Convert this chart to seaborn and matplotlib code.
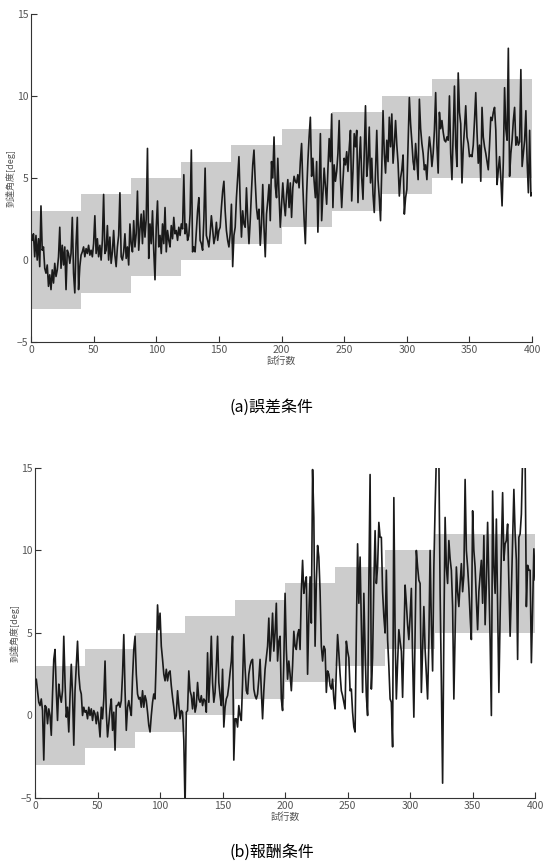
import numpy as np
import matplotlib
matplotlib.use("Agg")
import matplotlib.pyplot as plt
import pandas as pd
import seaborn as sns

# target band per block of 40 trials (last block runs to 400)
block_edges = [0, 40, 80, 120, 160, 200, 240, 280, 320, 400]
band_low = [-3, -2, -1, 0, 1, 2, 3, 4, 5]
band_high = [3, 4, 5, 6, 7, 8, 9, 10, 11]

# (a) error condition, reach angle per trial
error_angle = [
    1.2, 1.6, 0.2, 1.5, 0.0, 1.3, -0.4, 3.3, 0.6, 0.8,
    -0.5, -0.8, -0.3, -1.6, -0.9, -1.8, -0.6, -1.4, -0.2, -1.0,
    -0.6, 0.2, 2.0, -0.5, 0.9, -0.3, 0.8, -1.8, 0.6, 0.4,
    -0.2, 0.4, 2.6, -0.8, -2.0, 1.0, 2.6, -1.8, -0.4, 0.3,
    0.5, 0.8, 0.2, 0.7, 0.4, 0.9, 0.3, 0.6, 0.2, 1.0,
    2.7, 0.4, 1.3, 0.2, 0.9, 0.0, 1.2, 4.0, 0.4, 0.6,
    2.1, 0.0, 1.4, -0.2, 0.5, 1.8, 0.3, -0.4, 0.8, 1.5,
    4.1, 0.2, 0.0, 0.5, 1.6, 0.1, 0.8, -0.3, 2.2, 1.0,
    0.5, 2.4, 0.8, 1.6, 4.2, 0.6, 1.9, 2.8, 1.0, 3.0,
    1.4, 2.5, 6.8, 0.1, 2.2, 1.0, 3.0, 0.6, -1.2, 2.0,
    3.6, 0.8, 1.5, 0.4, 2.2, 1.0, 3.2, 0.5, 1.8, 1.2,
    0.8, 2.1, 1.3, 2.6, 1.6, 1.8, 1.2, 2.0, 1.5, 2.2,
    1.9, 5.2, 1.6, 2.2, 1.2, 1.5, 2.8, 6.7, 0.5, 0.8,
    0.5, 1.8, 3.0, 3.8, 1.2, 1.0, 0.6, 2.5, 5.6, 1.5,
    1.2, 0.8, 1.6, 2.7, 1.9, 1.0, 1.4, 2.3, 1.2, 1.8,
    2.0, 3.2, 4.2, 4.8, 3.0, 1.8, 1.2, 0.8, 1.6, 3.4,
    -0.4, 1.5, 2.0, 3.8, 5.0, 6.3, 3.5, 1.4, 3.0, 2.2,
    2.0, 4.4, 2.5, 1.0, 2.4, 4.2, 5.8, 6.7, 4.8, 3.2,
    2.5, 3.1, 0.9, 2.2, 4.6, 2.0, 0.2, 2.8, 3.6, 4.6,
    2.4, 6.0, 5.0, 7.5, 4.5, 3.8, 6.2, 4.0, 2.0, 3.4,
    4.7, 3.5, 2.7, 4.0, 4.9, 3.2, 4.7, 2.6, 4.4, 5.1,
    4.8, 4.7, 5.2, 4.4, 6.0, 7.1, 4.5, 2.5, 1.0, 4.0,
    6.0, 7.5, 8.7, 5.1, 6.2, 4.8, 3.8, 6.0, 1.7, 4.5,
    7.7, 2.4, 4.0, 5.6, 4.5, 3.4, 5.5, 7.4, 6.0, 8.9,
    3.2, 5.8, 4.8, 5.4, 6.5, 8.5, 5.0, 3.2, 4.8, 6.2,
    5.8, 6.6, 5.4, 6.8, 7.9, 3.6, 5.4, 7.7, 6.9, 7.9,
    3.5, 6.0, 7.5, 5.0, 3.7, 6.5, 9.4, 5.1, 6.0, 8.1,
    4.7, 6.2, 4.0, 2.9, 5.5, 7.9, 4.9, 3.8, 2.4, 5.6,
    9.1, 6.5, 5.3, 7.3, 6.0, 8.7, 6.9, 8.9, 5.9, 7.0,
    8.5, 7.0, 5.9, 3.9, 5.0, 5.5, 6.4, 2.8, 3.8, 4.3,
    7.0, 9.9, 8.3, 7.2, 6.0, 5.5, 7.1, 6.0, 4.9, 9.8,
    8.0, 7.1, 6.5, 5.5, 5.8, 4.9, 6.5, 7.5, 6.8, 5.7,
    6.5, 7.9, 10.2, 7.0, 5.3, 9.0, 8.0, 8.5, 7.8, 7.3,
    7.2, 7.5, 7.3, 10.0, 6.5, 4.9, 7.8, 10.6, 7.0, 5.7,
    11.4, 9.0, 8.3, 4.7, 6.8, 8.0, 9.4, 7.5, 7.1, 6.3,
    6.4, 6.3, 7.0, 8.5, 10.2, 7.8, 5.9, 7.0, 4.8, 9.3,
    7.5, 6.9, 6.5, 6.0, 5.5, 7.0, 8.7, 8.5, 9.0, 9.3,
    7.9, 4.6, 5.5, 6.3, 5.0, 3.3, 6.0, 10.5, 8.0, 7.3,
    12.9, 5.1, 6.5, 7.3, 8.5, 9.3, 7.0, 7.5, 7.0, 7.2,
    11.6, 5.7, 6.5, 7.3, 9.1, 6.0, 4.1, 7.9, 3.9, 4.1,
]

# (b) reward condition, reach angle per trial
reward_angle = [
    2.2, 1.5, 0.8, 0.6, 1.0, 0.3, -2.7, 0.6, 0.5, -0.5,
    0.4, 0.0, -1.2, 1.3, 3.4, 4.0, 1.5, -0.3, 1.9, 1.2,
    0.8, 1.5, 4.8, 2.0, -0.1, 0.5, -1.0, 1.2, 3.1, 1.3,
    -1.8, 1.5, 3.0, 4.5, 2.5, 1.6, 1.3, 0.0, 0.5, 0.2,
    0.3, -0.2, 0.5, 0.0, 0.4, -0.3, 0.3, 0.1, -0.5, 0.2,
    -0.4, -1.3, 0.5, -0.2, 1.0, 3.3, 0.2, -1.3, -0.5, 0.4,
    1.0, -0.9, 0.2, -2.1, 0.6, 0.6, 0.8, 0.5, 0.9, 2.5,
    4.9, 1.5, -0.9, 0.5, 0.9, 0.4, 0.0, 2.3, 4.0, 4.8,
    2.5, 1.3, 1.0, 1.1, 0.5, 1.5, 0.5, 1.2, 0.9, 0.2,
    -0.6, -1.0, 0.0, 0.8, 1.3, 1.0, 3.5, 6.7, 5.2, 6.2,
    4.2, 3.4, 2.5, 2.1, 2.8, 2.1, 2.6, 2.7, 1.8, 1.1,
    0.5, -0.2, 0.0, 1.5, 0.6, -0.2, 0.3, 0.2, -1.5, -5.6,
    0.2, 0.3, 2.7, 1.5, 1.2, 0.4, 1.4, 0.2, 0.6, 2.0,
    1.0, 0.8, 1.2, 0.6, 1.0, 0.9, 0.2, 3.8, 0.8, 2.5,
    4.8, 2.0, 0.8, 1.4, 3.0, 4.8, 2.0, 1.2, 0.6, 2.8,
    -0.7, 0.5, 1.0, 1.2, 1.8, 2.6, 3.3, 4.8, -2.7, -0.2,
    -0.2, -0.7, 0.6, 0.0, -0.3, 2.0, 4.9, 2.9, 1.5, 1.3,
    2.5, 3.0, 3.3, 3.4, 1.6, 1.2, 1.0, 1.3, 2.2, 3.4,
    1.5, -0.2, 1.5, 2.8, 3.5, 4.2, 5.9, 3.3, 4.5, 6.2,
    3.9, 5.0, 6.8, 3.3, 4.5, 4.8, 1.0, 0.3, 3.3, 7.4,
    4.0, 2.2, 3.3, 2.5, 1.5, 3.0, 5.1, 4.2, 4.0, 4.9,
    5.2, 4.0, 7.5, 9.4, 7.4, 8.0, 8.4, 2.5, 6.0, 8.4,
    5.6, 14.9, 12.0, 4.2, 8.0, 10.3, 9.6, 7.5, 4.2, 3.3,
    4.2, 4.0, 1.4, 2.7, 2.5, 1.8, 1.6, 2.2, 1.0, 0.4,
    2.8, 4.9, 3.8, 2.5, 1.5, 1.2, 0.8, 0.4, 4.5, 3.9,
    3.5, 1.5, 1.6, 0.2, -0.7, -1.0, 5.0, 10.4, 6.8, 9.6,
    5.5, 1.4, 7.4, 4.0, 1.2, 0.0, 8.0, 14.6, 1.6, 3.5,
    8.0, 11.2, 8.0, 9.0, 11.7, 10.8, 10.8, 7.5, 6.0, 5.0,
    8.8, 4.6, 3.0, 1.0, 0.8, -1.9, 13.2, 5.0, 1.0, 3.2,
    5.2, 4.5, 3.9, 1.1, 4.5, 7.9, 6.8, 5.5, 4.6, 6.0,
    7.7, 3.5, -0.1, 5.0, 10.0, 9.0, 8.2, 8.0, 1.4, 4.0,
    6.6, 4.0, 2.5, 1.0, 4.5, 10.0, 5.5, 2.7, 9.0, 12.6,
    15.6, 15.2, 15.6, 7.5, 2.0, -4.1, 5.0, 12.0, 9.0, 8.0,
    10.6, 9.5, 8.8, 6.6, 1.0, 5.0, 9.0, 7.5, 6.6, 8.0,
    9.2, 7.5, 8.5, 14.3, 10.0, 9.0, 7.7, 6.0, 4.6, 12.4,
    10.0, 9.0, 7.0, 5.2, 7.5, 8.5, 9.4, 6.8, 10.9, 5.5,
    8.0, 11.7, 8.0, 4.6, 0.0, 13.6, 9.0, 7.4, 11.9, 6.5,
    1.4, 6.0, 10.0, 13.5, 9.4, 10.4, 10.6, 11.6, 8.0, 4.8,
    7.5, 10.5, 13.7, 11.0, 9.4, 3.4, 10.8, 11.0, 12.2, 15.6,
    15.4, 15.6, 6.6, 9.1, 8.8, 8.8, 3.2, 6.5, 10.1, 8.2,
]

x_ticks = [0, 50, 100, 150, 200, 250, 300, 350, 400]
y_ticks = [-5, 0, 5, 10, 15]

sns.set_style("ticks")
plt.rcParams["font.family"] = ["Noto Sans CJK JP", "DejaVu Sans"]

fig = plt.figure(figsize=(5.43, 8.64), dpi=100)
ax_a = fig.add_axes([0.057, 0.604, 0.923, 0.380])
ax_b = fig.add_axes([0.0645, 0.0764, 0.921, 0.382])

band_x = block_edges
band_lo = band_low + [band_low[-1]]
band_hi = band_high + [band_high[-1]]

for ax, vals, caption, cap_y in [
    (ax_a, error_angle, "(a)誤差条件", 0.528),
    (ax_b, reward_angle, "(b)報酬条件", 0.014),
]:
    ax.fill_between(band_x, band_lo, band_hi, step="post",
                    color="#cccccc", linewidth=0, zorder=1)
    df = pd.DataFrame({"trial": np.arange(1, len(vals) + 1), "angle": vals})
    sns.lineplot(data=df, x="trial", y="angle", ax=ax, color="#1a1a1a",
                 linewidth=1.2, zorder=3)
    ax.set_xlim(0, 400)
    ax.set_ylim(-5, 15)
    ax.set_xticks(x_ticks)
    ax.set_yticks(y_ticks)
    ax.tick_params(direction="in", length=4, width=0.8, labelsize=7.5,
                   labelcolor="#555555", color="#333333", pad=2)
    ax.set_xlabel("試行数", fontsize=7, color="#555555", labelpad=1)
    ax.set_ylabel("到達角度[deg]", fontsize=6.5, color="#555555", labelpad=1)
    for side in ["top", "right"]:
        ax.spines[side].set_visible(False)
    for side in ["left", "bottom"]:
        ax.spines[side].set_linewidth(0.8)
        ax.spines[side].set_color("#333333")
    fig.text(0.5, cap_y, caption, ha="center", va="center", fontsize=11.5,
             color="black")

fig.savefig("out.png", dpi=100)
